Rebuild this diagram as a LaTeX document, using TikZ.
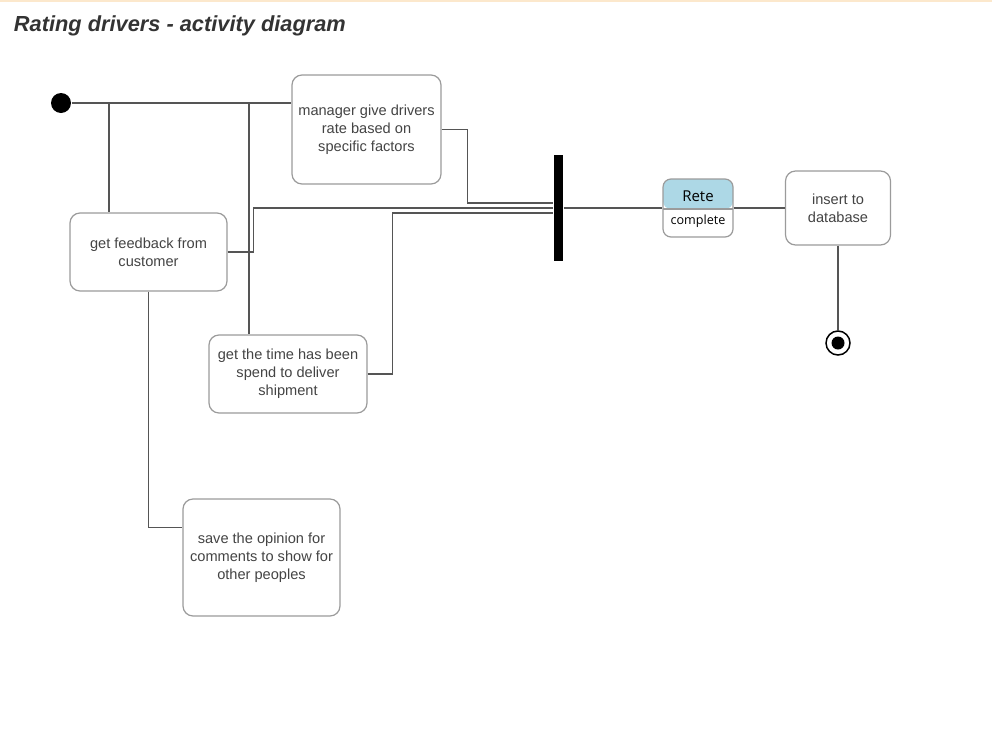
\documentclass[tikz,border=0pt]{standalone}
\usepackage{fontspec}
\setmainfont{Liberation Sans}
\newfontfamily\statefont{Open Sans}
\usepackage{tikz}
\definecolor{boxedge}{RGB}{155,155,155}
\definecolor{flowline}{RGB}{85,85,85}
\definecolor{boxtext}{RGB}{68,68,68}
\definecolor{titletext}{RGB}{51,51,51}
\definecolor{retetop}{RGB}{173,216,230}
\definecolor{pagetop}{RGB}{252,232,204}
\tikzstyle{every path}=[line width=1.2pt]
\tikzstyle{activity}=[draw=boxedge, rounded corners=10pt, fill=white, text=boxtext,
    align=center, inner sep=0pt, font=\fontsize{14.6}{18}\selectfont]
\tikzstyle{flow}=[draw=flowline]
\tikzstyle{startdot}=[circle, fill=black, inner sep=0pt, minimum size=20pt]
\tikzstyle{enddot}=[circle, draw=black, fill=white, line width=1.5pt, inner sep=0pt,
    minimum size=24pt, path picture={\fill[black] (path picture bounding box.center) circle (6.5pt);}]
\tikzstyle{forkbar}=[fill=black, inner sep=0pt, minimum width=9pt, minimum height=106pt]
\tikzstyle{retebox}=[draw=boxedge, rounded corners=8pt, fill=white, inner sep=0pt,
    minimum width=70pt, minimum height=58pt,
    path picture={\fill[retetop] (path picture bounding box.north west) rectangle ([yshift=-1pt]path picture bounding box.east);
                  \draw[boxedge] ([yshift=-1pt]path picture bounding box.west) -- ([yshift=-1pt]path picture bounding box.east);}]

\begin{document}
\begin{tikzpicture}[x=1pt, y=-1pt]
    \useasboundingbox (0,0) rectangle (992,742);
    \draw[pagetop, line width=2pt] (0,0.5) -- (992,0.5);
    \node[anchor=west, text=titletext, font=\fontsize{21.8}{24}\selectfont\bfseries\itshape]
        (title) at (10,26) {Rating drivers - activity diagram};

    % activities
    \node[startdot] (init) at (61,103) {};
    \node[activity, minimum width=149pt, minimum height=109pt] (manager) at (366.5,129.5)
        {manager give drivers\\rate based on\\specific factors};
    \node[activity, minimum width=157pt, minimum height=78pt] (feedback) at (148.5,252)
        {get feedback from\\customer};
    \node[activity, minimum width=158pt, minimum height=78pt] (time) at (288,374)
        {get the time has been\\spend to deliver\\shipment};
    \node[activity, minimum width=157pt, minimum height=117pt] (save) at (261.5,557.5)
        {save the opinion for\\comments to show for\\other peoples};
    \node[forkbar] (fork) at (558.5,208) {};
    \node[retebox] (rete) at (698,208) {};
    \node[text=black, font=\statefont\fontsize{15}{16}\selectfont] (retename) at (698,196.5) {Rete};
    \node[text=black, font=\statefont\fontsize{12.6}{14}\selectfont] (retestate) at (698,221.5) {complete};
    \node[activity, minimum width=105pt, minimum height=74pt] (insert) at (838,208)
        {insert to\\database};
    \node[enddot] (final) at (838,343) {};

    % connectors
    \coordinate (splitA) at (109,102);
    \coordinate (splitB) at (249,102);
    \draw[flow] (init) -- (init -| manager.west);
    \draw[flow] (splitA) -- (splitA |- feedback.north);
    \draw[flow] (splitB) -- (splitB |- time.north);
    \draw[flow] (manager.east) -- ++(26,0) |- ([yshift=5pt]fork.west);
    \draw[flow] (feedback.east) -- ++(26,0) |- (fork.west);
    \draw[flow] (time.east) -- ++(25,0) |- ([yshift=-5pt]fork.west);
    \draw[flow] (feedback.south) |- ([yshift=-29pt]save.north west);
    \draw[flow] (fork.east) -- (rete.west);
    \draw[flow] (rete.east) -- (insert.west);
    \draw[flow] (insert.south) -- (final.north);
\end{tikzpicture}
\end{document}
